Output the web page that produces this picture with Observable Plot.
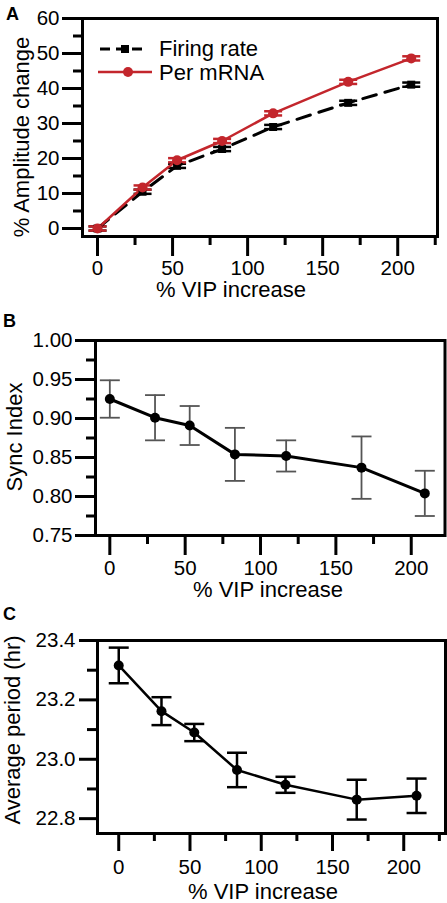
<!DOCTYPE html>
<html><head><meta charset="utf-8">
<script src="https://cdn.jsdelivr.net/npm/d3@7"></script>
<script src="https://cdn.jsdelivr.net/npm/@observablehq/plot@0.6"></script>
<style>
body{margin:0;background:#fff;font-family:"Liberation Sans",Arial,sans-serif;color:#000;}
#wrap{position:relative;width:447px;height:903px;overflow:hidden;}
.panel{position:absolute;left:0;}
.plabel{position:absolute;font-weight:bold;font-size:18px;line-height:18px;}
.legtext{position:absolute;font-size:22px;line-height:22px;white-space:nowrap;}
.axlabel{position:absolute;font-size:22px;line-height:22px;white-space:nowrap;}
</style>
</head><body><div id="wrap"></div>
<script>
// ---- data ----
const vip = [0, 30, 53, 83, 117, 167, 209];
const firingRate = [0, 10.5, 17.9, 22.7, 29.0, 35.9, 41.1];
const firingRateErr = [0.6, 0.6, 0.6, 0.6, 0.6, 0.6, 0.6];
const perMRNA = [0, 11.7, 19.5, 25.0, 32.9, 41.9, 48.6];
const perMRNAErr = [0.6, 0.6, 0.6, 0.6, 0.6, 0.6, 0.6];
const syncIndex = [0.925, 0.901, 0.891, 0.854, 0.852, 0.837, 0.804];
const syncIndexErr = [0.024, 0.029, 0.025, 0.034, 0.020, 0.040, 0.029];
const avgPeriod = [23.316, 23.162, 23.090, 22.964, 22.914, 22.864, 22.877];
const avgPeriodErr = [0.060, 0.047, 0.029, 0.058, 0.027, 0.067, 0.058];

const xMajor = [0, 50, 100, 150, 200];
const xMinorA = [25, 75, 125, 175, 225];
const xMinorB = [25, 75, 125, 175];
const yMajorA = [0, 10, 20, 30, 40, 50, 60];
const yMinorA = [5, 15, 25, 35, 45, 55];
const yMajorB = [0.75, 0.80, 0.85, 0.90, 0.95, 1.00];
const yMinorB = [0.775, 0.825, 0.875, 0.925, 0.975];
const yMajorC = [22.8, 23.0, 23.2, 23.4];
const yMinorC = [22.9, 23.1, 23.3];

const legendLabels = ["Firing rate", "Per mRNA"];
const xLabel = "% VIP increase";
const yLabels = ["% Amplitude change", "Sync Index", "Average period (hr)"];
const panelLetters = ["A", "B", "C"];
const RED = "#c3262c";

const rows = (ys, es) => vip.map((x, i) => ({x, y: ys[i], e: es[i]}));
const dFR = rows(firingRate, firingRateErr);
const dPM = rows(perMRNA, perMRNAErr);
const dSI = rows(syncIndex, syncIndexErr);
const dAP = rows(avgPeriod, avgPeriodErr);

const cap = {draw(ctx, size) { const w = Math.sqrt(size / Math.PI); ctx.moveTo(-w, 0); ctx.lineTo(w, 0); }};

function errMarks(data, color, sw, capR) {
  return [
    Plot.ruleX(data, {x: "x", y1: d => d.y - d.e, y2: d => d.y + d.e, stroke: color, strokeWidth: sw}),
    Plot.dot(data, {x: "x", y: d => d.y + d.e, symbol: cap, r: capR, stroke: color, strokeWidth: sw, fill: "none"}),
    Plot.dot(data, {x: "x", y: d => d.y - d.e, symbol: cap, r: capR, stroke: color, strokeWidth: sw, fill: "none"})
  ];
}

function axes(o) {
  return [
    Plot.axisX(o.xMajor, {anchor: "bottom", tickSize: o.xTick, tickPadding: o.xPad, strokeWidth: 3, fontSize: 20.5, label: null, tickFormat: d => String(d)}),
    Plot.axisX(o.xMinor, {anchor: "bottom", tickSize: o.xTickMinor, strokeWidth: 3, label: null, tickFormat: () => ""}),
    Plot.axisY(o.yMajor, {anchor: "left", tickSize: o.yTick, tickPadding: o.yPad, strokeWidth: 3, fontSize: 20.5, label: null, tickFormat: o.yFmt}),
    Plot.axisY(o.yMinor, {anchor: "left", tickSize: o.yTickMinor, strokeWidth: 3, label: null, tickFormat: () => ""}),
    Plot.frame({strokeWidth: 3})
  ];
}

const style = {fontFamily: "'Liberation Sans', Arial, sans-serif", color: "#000", background: "transparent", overflow: "visible"};
const wrap = document.getElementById("wrap");
function place(svg, top) { svg.classList.add("panel"); svg.style.top = top + "px"; wrap.appendChild(svg); }

// ---- Panel A ----
const A = Plot.plot({
  width: 447, height: 300, marginTop: 18, marginBottom: 64, marginLeft: 82, marginRight: 10,
  style,
  x: {domain: [-10, 226.5]},
  y: {domain: [-2.29, 60]},
  marks: [
    ...axes({xMajor, xMinor: xMinorA, xTick: 20, xTickMinor: 9, xPad: 4,
             yMajor: yMajorA, yMinor: yMinorA, yTick: 20, yTickMinor: 9, yPad: 3, yFmt: d => String(d)}),
    ...errMarks(dFR, "#000", 2.5, 9),
    ...errMarks(dPM, RED, 2.5, 9),
    Plot.line(dFR, {x: "x", y: "y", stroke: "#000", strokeWidth: 3, strokeDasharray: "14,9"}),
    Plot.line(dPM, {x: "x", y: "y", stroke: RED, strokeWidth: 2.5}),
    Plot.dot(dFR, {x: "x", y: "y", symbol: "square", r: 4.5, fill: "#000"}),
    Plot.dot(dPM, {x: "x", y: "y", r: 5, fill: RED})
  ]
});
place(A, 0);

// ---- Panel B ----
const B = Plot.plot({
  width: 447, height: 300, marginTop: 40, marginBottom: 65, marginLeft: 95, marginRight: 2.5,
  style,
  x: {domain: [-9.5, 222.4]},
  y: {domain: [0.75, 1.0]},
  marks: [
    ...axes({xMajor, xMinor: xMinorB, xTick: 20, xTickMinor: 9, xPad: 5,
             yMajor: yMajorB, yMinor: yMinorB, yTick: 20, yTickMinor: 9, yPad: 3, yFmt: d3.format(".2f")}),
    ...errMarks(dSI, "#555", 1.8, 10),
    Plot.line(dSI, {x: "x", y: "y", stroke: "#000", strokeWidth: 3}),
    Plot.dot(dSI, {x: "x", y: "y", r: 5, fill: "#000"})
  ]
});
place(B, 300);

// ---- Panel C ----
const C = Plot.plot({
  width: 447, height: 303, marginTop: 40, marginBottom: 70, marginLeft: 97, marginRight: 2,
  style,
  x: {domain: [-14.9, 229.3]},
  y: {domain: [22.75, 23.4]},
  marks: [
    ...axes({xMajor, xMinor: xMinorA, xTick: 18, xTickMinor: 8, xPad: 8,
             yMajor: yMajorC, yMinor: yMinorC, yTick: 18, yTickMinor: 10, yPad: 4, yFmt: d3.format(".1f")}),
    ...errMarks(dAP, "#000", 2.5, 10),
    Plot.line(dAP, {x: "x", y: "y", stroke: "#000", strokeWidth: 2.5}),
    Plot.dot(dAP, {x: "x", y: "y", r: 5, fill: "#000"})
  ]
});
place(C, 600);

// ---- axis titles (HTML text) ----
function addLabel(text, cx, cy, rotate) {
  const d = document.createElement("div"); d.className = "axlabel"; d.textContent = text;
  d.style.left = cx + "px"; d.style.top = cy + "px";
  d.style.transform = "translate(-50%,-50%)" + (rotate ? " rotate(-90deg)" : "");
  wrap.appendChild(d);
}
addLabel(yLabels[0], 22, 137, true);
addLabel(xLabel, 231, 290, false);
addLabel(yLabels[1], 15, 437, true);
addLabel(xLabel, 268, 590, false);
addLabel(yLabels[2], 13, 730, true);
addLabel(xLabel, 263, 892, false);

// ---- panel letters ----
[[6, 5], [3, 312], [3, 605]].forEach(([l, tp], i) => {
  const d = document.createElement("div"); d.className = "plabel"; d.textContent = panelLetters[i];
  d.style.left = l + "px"; d.style.top = tp + "px"; wrap.appendChild(d);
});

// ---- legend (panel A) ----
const ns = "http://www.w3.org/2000/svg";
const lg = document.createElementNS(ns, "svg");
lg.setAttribute("width", 447); lg.setAttribute("height", 100);
lg.style.position = "absolute"; lg.style.left = "0"; lg.style.top = "0";
lg.innerHTML =
  '<line x1="100" y1="49" x2="143" y2="49" stroke="#000" stroke-width="3" stroke-dasharray="10,6"/>' +
  '<rect x="121" y="45" width="8" height="8" fill="#000"/>' +
  '<line x1="98" y1="72" x2="152" y2="72" stroke="' + RED + '" stroke-width="2.5"/>' +
  '<circle cx="128" cy="72" r="5" fill="' + RED + '"/>';
wrap.appendChild(lg);
legendLabels.forEach((t, i) => {
  const d = document.createElement("div"); d.className = "legtext"; d.textContent = t;
  d.style.left = "159px"; d.style.top = (i === 0 ? 38 : 62) + "px"; wrap.appendChild(d);
});
</script>
</body></html>
